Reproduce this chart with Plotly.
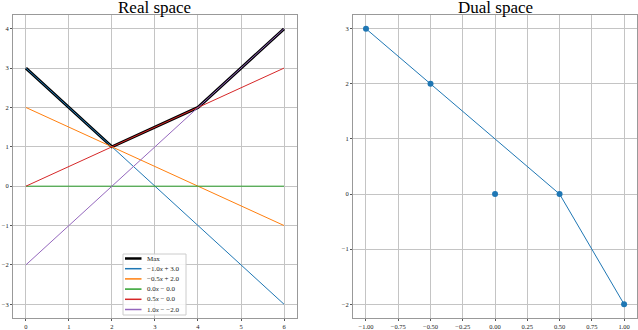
import numpy as np
import plotly.graph_objects as go
from plotly.subplots import make_subplots

# real space: lines y = a*x + b
x_vals = [0, 1, 2, 3, 4, 5, 6]
slopes = [-1.0, -0.5, 0.0, 0.5, 1.0]
intercepts = [3.0, 2.0, 0.0, 0.0, -2.0]
line_labels = ["−1.0<i>x</i> + 3.0", "−0.5<i>x</i> + 2.0", "0.0<i>x</i> − 0.0",
               "0.5<i>x</i> − 0.0", "1.0<i>x</i> − −2.0"]
line_colors = ["#1f77b4", "#ff7f0e", "#2ca02c", "#d62728", "#9467bd"]

# dual space points (slope, -intercept) and the hull path
dual_x = [-1.0, -0.5, 0.0, 0.5, 1.0]
dual_y = [3.0, 2.0, 0.0, 0.0, -2.0]
hull_x = [-1.0, -0.5, 0.5, 1.0]
hull_y = [3.0, 2.0, 0.0, -2.0]

serif = "Liberation Serif"
W, H = 638, 330
M = dict(l=13, r=1, t=15, b=12)


def px(x):
    return (x - M["l"]) / (W - M["l"] - M["r"])


def py(y):
    return (H - M["b"] - y) / (H - M["t"] - M["b"])


fig = make_subplots(rows=1, cols=2, horizontal_spacing=0.09,
                    subplot_titles=("Real space", "Dual space"))

xs = np.array(x_vals, dtype=float)
ys = [a * xs + b for a, b in zip(slopes, intercepts)]
y_max = np.max(np.vstack(ys), axis=0)

fig.add_trace(go.Scatter(x=xs, y=y_max, mode="lines", name="Max",
                         line=dict(color="black", width=3)), row=1, col=1)
for y, lab, c in zip(ys, line_labels, line_colors):
    fig.add_trace(go.Scatter(x=xs, y=y, mode="lines", name=lab,
                             line=dict(color=c, width=1)), row=1, col=1)

fig.add_trace(go.Scatter(x=hull_x, y=hull_y, mode="lines",
                         line=dict(color="#1f77b4", width=1)), row=1, col=2)
fig.add_trace(go.Scatter(x=dual_x, y=dual_y, mode="markers",
                         marker=dict(color="#1f77b4", size=6)), row=1, col=2)

axis_style = dict(showgrid=True, gridcolor="#c4c4c4", gridwidth=1,
                  zeroline=False, showline=True, linecolor="#999999", mirror=True,
                  ticks="outside", ticklen=2, tickcolor="#555555",
                  ticklabelstandoff=0, automargin=False,
                  tickfont=dict(family=serif, size=6.5, color="#222222"))

fig.update_xaxes(**axis_style)
fig.update_yaxes(**axis_style)
fig.update_xaxes(range=[-0.3, 6.3], dtick=1, row=1, col=1)
fig.update_yaxes(range=[-3.35, 4.35], dtick=1, row=1, col=1)
fig.update_xaxes(range=[-1.1, 1.1], dtick=0.25, tickformat=".2f", row=1, col=2)
fig.update_yaxes(range=[-2.25, 3.25], dtick=1, row=1, col=2)

fig.update_annotations(font=dict(family=serif, size=17, color="black"), yshift=-4)

# compact legend box, matplotlib style
fig.add_shape(type="rect", xref="paper", yref="paper",
              x0=px(123), x1=px(186), y0=py(315), y1=py(254),
              fillcolor="rgba(255,255,255,0.85)", line=dict(color="#cccccc", width=1))
legend_labels = ["Max"] + line_labels
legend_colors = ["black"] + line_colors
for i, (lab, c) in enumerate(zip(legend_labels, legend_colors)):
    yy = 258.5 + i * 10.2
    fig.add_shape(type="line", xref="paper", yref="paper",
                  x0=px(125), x1=px(141.5), y0=py(yy), y1=py(yy),
                  line=dict(color=c, width=2.5 if i == 0 else 1.5))
    fig.add_annotation(x=px(145), y=py(yy), xref="paper", yref="paper",
                       text=lab, showarrow=False, xanchor="left", yanchor="middle",
                       font=dict(family=serif, size=7, color="#222222"))

fig.update_layout(
    width=W, height=H,
    margin=M,
    showlegend=False,
    plot_bgcolor="white", paper_bgcolor="white",
)

# drop the default 8px page margin so the figure sits at the window corner
fig.write_html("out.html", config={"displayModeBar": False},
               post_script="document.body.style.margin='0';")
